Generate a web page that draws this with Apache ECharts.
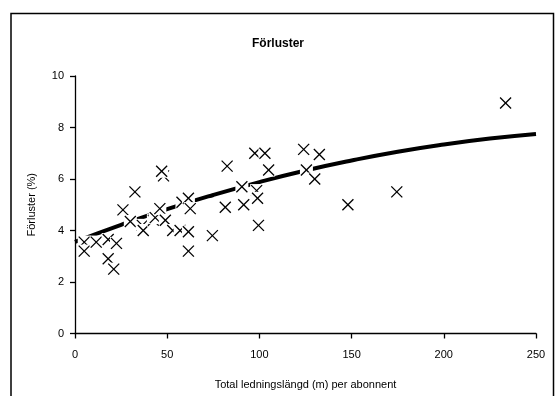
<!DOCTYPE html>
<html>
<head>
<meta charset="utf-8">
<script src="https://cdn.jsdelivr.net/npm/echarts@6/dist/echarts.min.js"></script>
<style>
  html, body { margin: 0; padding: 0; background: #fff; }
  #chart { width: 555px; height: 396px; }
</style>
</head>
<body>
<div id="chart"></div>
<script>
// Line length per subscriber (m) and measured losses (%)
const lengthPerSub = [5, 5, 11.5, 18, 18, 21, 22.5, 26, 30, 32.5, 36.5, 37, 42.5, 43.5, 46, 48, 47, 49, 53, 57, 58, 61.5, 62.5, 61.5, 61.5, 74.5, 81.5, 82.5, 90.5, 91.5, 97.5, 98.5, 99, 99.5, 103, 105, 124, 125.5, 130, 132.5, 148, 174.5, 233.5];
const lossPct      = [3.55, 3.2, 3.55, 3.65, 2.9, 2.5, 3.5, 4.8, 4.35, 5.5, 4.2, 4.0, 4.4, 4.5, 4.85, 6.12, 6.3, 4.4, 4.0, 4.0, 5.1, 5.25, 4.85, 3.95, 3.2, 3.8, 4.9, 6.5, 5.7, 5.0, 7.0, 5.55, 5.25, 4.2, 7.0, 6.35, 7.15, 6.35, 6.0, 6.95, 5.0, 5.5, 8.95];

// Trend curve, sampled along the x range
const trendX = [0, 25, 50, 75, 100, 125, 150, 175, 200, 225, 250];
const trendY = [3.56, 4.22, 4.83, 5.38, 5.88, 6.33, 6.72, 7.06, 7.34, 7.57, 7.75];

// Axis ticks
const xTicks = [0, 50, 100, 150, 200, 250];
const yTicks = [0, 2, 4, 6, 8, 10];

const FONT = '"Liberation Sans", Arial, sans-serif';

const points = lengthPerSub.map((x, i) => [x, lossPct[i]]);
const trend = trendX.map((x, i) => [x, trendY[i]]);

const chart = echarts.init(document.getElementById('chart'), null, { renderer: 'canvas' });

chart.setOption({
  backgroundColor: '#fff',
  animation: false,
  textStyle: { fontFamily: FONT, color: '#000' },
  title: {
    text: 'Förluster',
    left: 273, top: 33,
    textAlign: 'center',
    textStyle: { fontFamily: FONT, fontSize: 12, fontWeight: 'bold', color: '#000' }
  },
  graphic: [{
    type: 'rect',
    shape: { x: 11, y: 13.5, width: 542.5, height: 400 },
    style: { fill: 'none', stroke: '#000', lineWidth: 1.5 },
    silent: true
  }],
  grid: { left: 75, top: 76, width: 461, height: 257.5, containLabel: false },
  xAxis: {
    type: 'value',
    min: xTicks[0], max: xTicks[xTicks.length - 1], interval: 50,
    name: 'Total ledningslängd (m) per abonnent',
    nameLocation: 'middle', nameGap: 46,
    nameTextStyle: { fontFamily: FONT, fontSize: 11, color: '#000' },
    axisLine: { onZero: false, lineStyle: { color: '#000', width: 1.3 } },
    axisTick: { show: true, length: 5, inside: false, lineStyle: { color: '#000', width: 1.3 } },
    axisLabel: { fontFamily: FONT, fontSize: 11, color: '#000', margin: 16 },
    splitLine: { show: false }
  },
  yAxis: {
    type: 'value',
    min: yTicks[0], max: yTicks[yTicks.length - 1], interval: 2,
    name: 'Förluster (%)',
    nameLocation: 'middle', nameGap: 38,
    nameTextStyle: { fontFamily: FONT, fontSize: 11, color: '#000' },
    axisLine: { show: true, onZero: false, lineStyle: { color: '#000', width: 1.3 } },
    axisTick: { show: true, length: 5, inside: false, lineStyle: { color: '#000', width: 1.3 } },
    axisLabel: { fontFamily: FONT, fontSize: 11, color: '#000', margin: 11 },
    splitLine: { show: false }
  },
  series: [
    {
      name: 'Trend',
      type: 'line',
      data: trend,
      smooth: true,
      showSymbol: false,
      z: 2,
      lineStyle: { color: '#000', width: 4 }
    },
    {
      // Each marker: white square backing, then a black cross
      name: 'Förluster',
      type: 'custom',
      data: points,
      z: 3,
      renderItem: function (params, api) {
        const p = api.coord([api.value(0), api.value(1)]);
        const h = 5.5, b = 6.5;
        return {
          type: 'group',
          children: [
            { type: 'rect', shape: { x: p[0] - b, y: p[1] - b, width: 2 * b, height: 2 * b }, style: { fill: '#fff' } },
            { type: 'line', shape: { x1: p[0] - h, y1: p[1] - h, x2: p[0] + h, y2: p[1] + h }, style: { stroke: '#000', lineWidth: 1.3 } },
            { type: 'line', shape: { x1: p[0] - h, y1: p[1] + h, x2: p[0] + h, y2: p[1] - h }, style: { stroke: '#000', lineWidth: 1.3 } }
          ]
        };
      }
    }
  ]
});
</script>
</body>
</html>
